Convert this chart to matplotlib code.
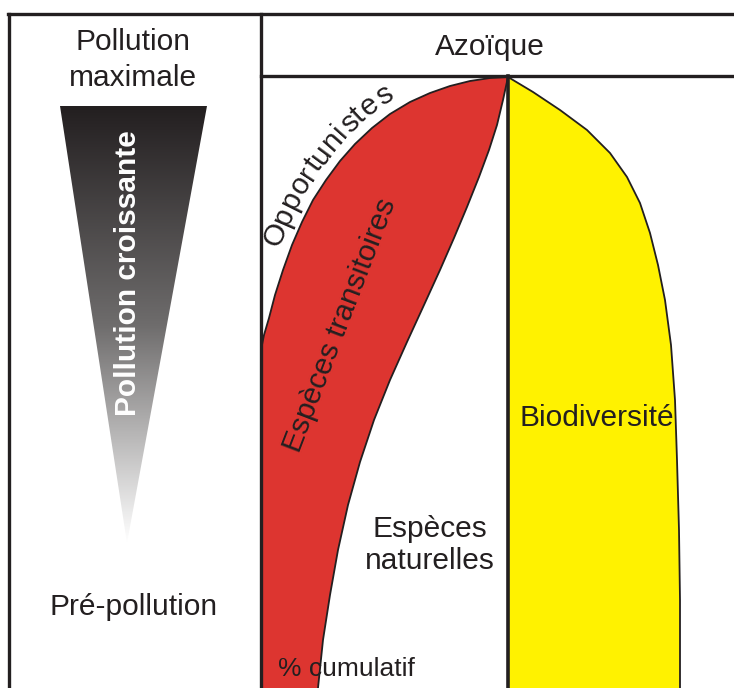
import numpy as np
import matplotlib
matplotlib.use("Agg")
from matplotlib import pyplot as plt
from matplotlib.patches import Polygon
from matplotlib.colors import LinearSegmentedColormap

plt.rcParams['font.family'] = ['Liberation Sans', 'DejaVu Sans']

INK = '#231f20'
RED = '#dd3530'
YELLOW = '#fff200'

# outer edge of the "opportunistes / transitoires" band (pixel coords, y down)
outer_x = [508, 490, 470, 450, 430, 410, 390, 372, 355, 340, 326, 313, 302, 292, 283, 275, 269, 264, 262]
outer_y = [77, 78, 81, 86, 93, 102, 114, 128, 144, 161, 180, 200, 222, 245, 270, 295, 318, 335, 345]
# inner edge (boundary with natural species)
inner_x = [508, 503, 497, 489, 479, 467, 454, 440, 424, 407, 390, 374, 360, 348, 338, 330, 323, 318]
inner_y = [77, 100, 125, 150, 177, 207, 238, 270, 305, 342, 380, 420, 462, 505, 550, 595, 640, 688]
# right edge of the biodiversity area
bio_x = [508, 533, 560, 587, 610, 627, 640, 650, 658, 665, 671, 675, 677, 679, 680, 680]
bio_y = [77, 92, 110, 130, 153, 177, 203, 233, 265, 300, 345, 400, 460, 530, 600, 688]

labels = ['Pollution\nmaximale', 'Azoïque', 'Pré-pollution', 'Espèces\nnaturelles',
          'Biodiversité', '% cumulatif']


def text_on_curve(ax, s, xs, ys, start, offset, fontsize, renderer):
    # lay characters one by one along a polyline (y axis pointing down)
    pts = np.column_stack([xs, ys]).astype(float)
    seg = np.diff(pts, axis=0)
    seglen = np.hypot(seg[:, 0], seg[:, 1])
    cum = np.concatenate([[0], np.cumsum(seglen)])
    pos = start
    for ch in s:
        t = ax.text(0, 0, ch, fontsize=fontsize)
        w = t.get_window_extent(renderer).width
        t.remove()
        d = pos + w / 2
        i = int(np.clip(np.searchsorted(cum, d) - 1, 0, len(seg) - 1))
        tan = seg[i] / seglen[i]
        p = pts[i] + (d - cum[i]) * tan
        up = np.array([tan[1], -tan[0]])
        p = p + offset * up
        ang = np.degrees(np.arctan2(-tan[1], tan[0]))
        ax.text(p[0], p[1], ch, fontsize=fontsize, color=INK, ha='center', va='baseline',
                rotation=ang, rotation_mode='anchor', zorder=4)
        pos += w


fig = plt.figure(figsize=(7.34, 6.88), dpi=100)
ax = fig.add_axes([0, 0, 1, 1])
ax.set_xlim(0, 734)
ax.set_ylim(688, 0)
ax.axis('off')
renderer = fig.canvas.get_renderer()

# red band
red_pts = list(zip(outer_x, outer_y)) + [(262, 688)] + list(zip(inner_x[::-1], inner_y[::-1]))
ax.add_patch(Polygon(red_pts, closed=True, facecolor=RED, edgecolor='none', zorder=1))
ax.plot(outer_x, outer_y, color=INK, lw=1.3, zorder=2)
ax.plot(inner_x, inner_y, color=INK, lw=1.3, zorder=2)

# yellow area
yel_pts = list(zip(bio_x, bio_y)) + [(508, 688)]
ax.add_patch(Polygon(yel_pts, closed=True, facecolor=YELLOW, edgecolor='none', zorder=1))
ax.plot(bio_x, bio_y, color=INK, lw=1.3, zorder=2)

# frame
ax.plot([9, 9], [14, 688], color=INK, lw=2.4, zorder=3)
ax.plot([8, 734], [14, 14], color=INK, lw=2.4, zorder=3)
ax.plot([261, 261], [14, 688], color=INK, lw=2.4, zorder=3)
ax.plot([261, 734], [76, 76], color=INK, lw=2.4, zorder=3)
ax.plot([508, 508], [76, 688], color=INK, lw=2.6, zorder=3)

# gradient triangle
tri = Polygon([(60, 106), (207, 106), (127, 543)], closed=True, facecolor='none', edgecolor='none')
ax.add_patch(tri)
cmap = LinearSegmentedColormap.from_list('g', [INK, '#6e6c6c', '#ffffff'])
grad = np.linspace(0, 1, 256).reshape(-1, 1)
im = ax.imshow(grad, extent=(60, 207, 543, 106), cmap=cmap, aspect='auto', zorder=1)
im.set_clip_path(tri)
ax.set_xlim(0, 734)
ax.set_ylim(688, 0)

fs = 21.5
ax.text(133, 60, labels[0], ha='center', va='center', fontsize=fs, color=INK, linespacing=1.35)
ax.text(490, 47, labels[1], ha='center', va='center', fontsize=fs, color=INK)
ax.text(134, 607, labels[2], ha='center', va='center', fontsize=fs, color=INK)
ax.text(430, 545, labels[3], ha='center', va='center', fontsize=fs, color=INK, linespacing=1.18)
ax.text(597, 418, labels[4], ha='center', va='center', fontsize=fs, color=INK, zorder=4)
ax.text(278, 669, labels[5], ha='left', va='center', fontsize=19, color=INK, zorder=4)

text_on_curve(ax, 'Opportunistes', outer_x[::-1], outer_y[::-1], 96, 11, fs, renderer)
ax.text(340, 325, 'Espèces transitoires', ha='center', va='center', fontsize=fs, color=INK,
        rotation=69, rotation_mode='anchor', zorder=4)
ax.text(128, 273, 'Pollution croissante', ha='center', va='center', fontsize=21.5,
        color='white', fontweight='bold', rotation=90, zorder=4)

fig.savefig('out.png', dpi=100)
